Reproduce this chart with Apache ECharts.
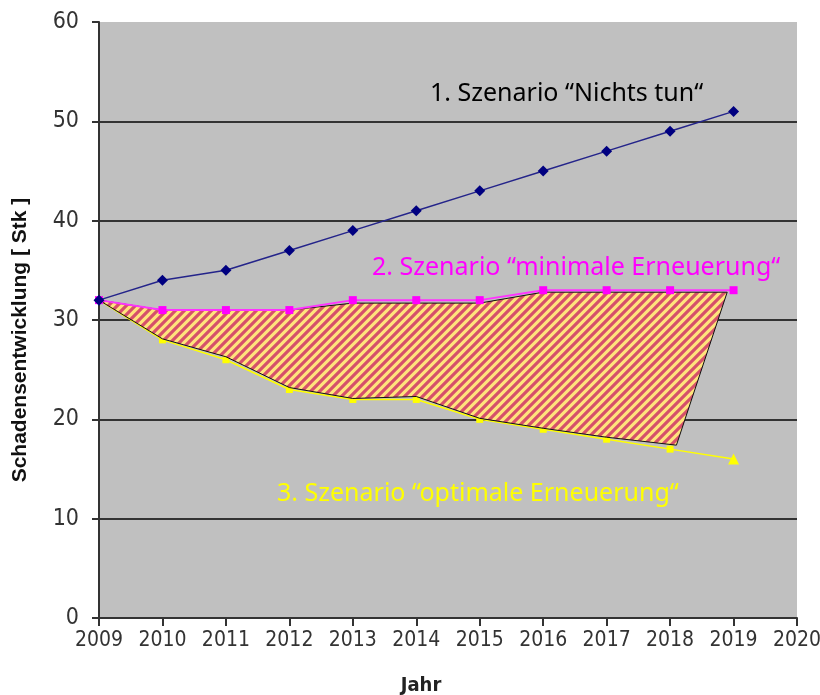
<!DOCTYPE html>
<html>
<head>
<meta charset="utf-8">
<script src="https://cdn.jsdelivr.net/npm/echarts@6/dist/echarts.min.js"></script>
<style>
  html, body { margin: 0; padding: 0; background: #fff; }
  #chart { width: 820px; height: 695px; }
</style>
</head>
<body>
<div id="chart"></div>
<script>
// jahre + szenarien
const years = [2009, 2010, 2011, 2012, 2013, 2014, 2015, 2016, 2017, 2018, 2019];
const nichtsTun = [32, 34, 35, 37, 39, 41, 43, 45, 47, 49, 51];
const minimal = [32, 31, 31, 31, 32, 32, 32, 33, 33, 33, 33];
const optimal = [32, 28, 26, 23, 22, 22, 20, 19, 18, 17, 16];

// schraffierte flaeche (oben von links nach rechts, unten zurueck)
const hatchTop = [[2009, 32], [2010, 31], [2012, 31], [2013, 31.7], [2015, 31.7], [2016, 32.8], [2018.9, 32.8]];
const hatchBottom = [[2018.1, 17.4], [2017, 18.2], [2016, 19.1], [2015, 20.1], [2014, 22.3], [2013, 22.1], [2012, 23.2], [2011, 26.3], [2010, 28.1]];

const fontNarrow = '"Liberation Sans Narrow", "DejaVu Sans Condensed", "Liberation Sans", sans-serif';
const fontDin = '25px "Noto Sans", sans-serif';

function makeStripes() {
  const s = 9;
  const c = document.createElement('canvas');
  c.width = s; c.height = s;
  const ctx = c.getContext('2d');
  ctx.fillStyle = '#ffe47c';
  ctx.fillRect(0, 0, s, s);
  ctx.strokeStyle = '#d5506a';
  ctx.lineWidth = 3.2;
  ctx.beginPath();
  ctx.moveTo(-1, s + 1); ctx.lineTo(s + 1, -1);
  ctx.moveTo(-3, 3); ctx.lineTo(3, -3);
  ctx.moveTo(s - 3, s + 3); ctx.lineTo(s + 3, s - 3);
  ctx.stroke();
  return c;
}

const chart = echarts.init(document.getElementById('chart'));

const pair = (vals) => years.map((y, i) => [y, vals[i]]);

let option = {
  animation: false,
  backgroundColor: '#ffffff',
  grid: {
    left: 99, right: 23, top: 22, bottom: 77,
    outerBoundsMode: 'none',
    show: true, backgroundColor: '#c0c0c0', borderWidth: 0
  },
  xAxis: {
    type: 'value', min: 2009, max: 2020, interval: 1,
    name: 'Jahr', nameLocation: 'middle', nameGap: 58,
    nameTextStyle: { fontFamily: fontNarrow, fontWeight: 'bold', fontSize: 20, color: '#222', padding: [0, 54, 0, 0] },
    axisLine: { lineStyle: { color: '#333', width: 2 } },
    axisTick: { length: 8, lineStyle: { color: '#333', width: 2 } },
    axisLabel: { margin: 12, fontFamily: fontNarrow, fontSize: 21, color: '#333', formatter: (v) => String(v) },
    splitLine: { show: false }
  },
  yAxis: {
    type: 'value', min: 0, max: 60, interval: 10,
    name: 'Schadensentwicklung [ Stk ]', nameLocation: 'middle', nameGap: 68,
    nameTextStyle: { fontFamily: '"Liberation Sans", Arial, sans-serif', fontWeight: 'bold', fontSize: 21, color: '#111', padding: [0, 40, 0, 0] },
    axisLine: { show: true, lineStyle: { color: '#333', width: 2 } },
    axisTick: { show: true, length: 7, lineStyle: { color: '#333', width: 2 } },
    axisLabel: { margin: 20, fontFamily: fontNarrow, fontSize: 23, color: '#333' },
    splitLine: { show: true, showMinLine: false, showMaxLine: false, lineStyle: { color: '#333', width: 2 } }
  },
  graphic: [
    { type: 'text', x: 430, y: 94, style: { text: '1. Szenario \u201cNichts tun\u201c', fill: '#000', font: fontDin, verticalAlign: 'middle' } },
    { type: 'text', x: 372, y: 268, style: { text: '2. Szenario \u201cminimale Erneuerung\u201c', fill: '#ff00ff', font: fontDin, verticalAlign: 'middle' } },
    { type: 'text', x: 277, y: 494, style: { text: '3. Szenario \u201coptimale Erneuerung\u201c', fill: '#ffff00', font: fontDin, verticalAlign: 'middle' } }
  ],
  series: [
    {
      name: 'optimal', type: 'line', z: 2,
      data: pair(optimal).map((p, i) => i === years.length - 1
        ? { value: p, symbol: 'triangle', symbolSize: 11 }
        : p),
      symbol: 'rect', symbolSize: 7,
      lineStyle: { color: '#ffff00', width: 1.5 },
      itemStyle: { color: '#ffff00' }
    },
    {
      name: 'schraffur', type: 'custom', z: 3,
      data: [0],
      renderItem: function (params, api) {
        const pts = hatchTop.concat(hatchBottom).map((p) => api.coord(p));
        return {
          type: 'polygon',
          shape: { points: pts },
          style: {
            fill: { image: makeStripes(), repeat: 'repeat' },
            stroke: '#111', lineWidth: 1
          }
        };
      }
    },
    {
      name: 'minimal', type: 'line', z: 4,
      data: pair(minimal),
      symbol: 'rect', symbolSize: 8,
      lineStyle: { color: '#ff33ff', width: 2 },
      itemStyle: { color: '#ff00ff' }
    },
    {
      name: 'nichts', type: 'line', z: 5,
      data: pair(nichtsTun),
      symbol: 'diamond', symbolSize: 11,
      lineStyle: { color: '#24248a', width: 1.5 },
      itemStyle: { color: '#000080' }
    }
  ]
};

chart.setOption(option);
</script>
</body>
</html>
